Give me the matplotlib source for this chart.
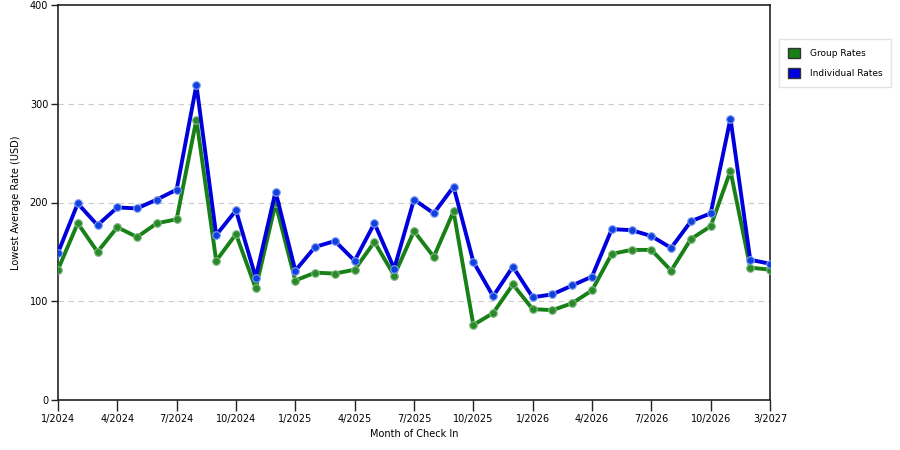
import matplotlib
matplotlib.use("Agg")
import matplotlib.pyplot as plt
from matplotlib.patches import Patch

# month index 0 = 1/2024
months = list(range(37))
tick_pos = [0, 3, 6, 9, 12, 15, 18, 21, 24, 27, 30, 33, 36]
tick_labels = ["1/2024", "4/2024", "7/2024", "10/2024", "1/2025", "4/2025", "7/2025",
               "10/2025", "1/2026", "4/2026", "7/2026", "10/2026", "3/2027"]

group_rates = [132, 179, 150, 175, 165, 179, 183, 284, 141, 168,
               113, 199, 121, 129, 128, 132, 160, 126, 171, 145,
               191, 76, 88, 117, 92, 91, 98, 111, 148, 152,
               152, 131, 163, 176, 232, 134, 132]
individual_rates = [149, 199, 177, 195, 194, 203, 213, 319, 167, 192,
                    124, 211, 131, 155, 161, 141, 179, 133, 203, 189,
                    216, 140, 105, 135, 104, 107, 116, 125, 173, 172,
                    166, 154, 181, 189, 285, 142, 138]

green = "#178017"
blue = "#0000dd"

fig = plt.figure(figsize=(9, 4.5), dpi=100)
ax = fig.add_axes([0.0644, 0.1111, 0.7912, 0.8778])

ax.plot(months, group_rates, color=green, lw=2.8, marker="o", ms=5.5,
        mfc="#2a8a2a", mec="#80b880", mew=0.8, zorder=3)
ax.plot(months, individual_rates, color=blue, lw=2.8, marker="o", ms=5.5,
        mfc="#1040e0", mec="#80a0ef", mew=0.8, zorder=4)

ax.set_xlim(0, 36)
ax.set_ylim(0, 400)
ax.set_xticks(tick_pos)
ax.set_xticklabels(tick_labels)
ax.set_yticks([0, 100, 200, 300, 400])
ax.tick_params(axis="both", labelsize=7, color="#222222", width=1)
ax.tick_params(axis="x", length=8, pad=2)
ax.tick_params(axis="y", length=5, pad=2)
for s in ax.spines.values():
    s.set_color("#222222")
    s.set_linewidth(1.2)

for v in [100, 200, 300]:
    ax.axhline(v, color="#cccccc", lw=0.8, ls=(0, (5, 4)), zorder=1)

ax.set_xlabel("Month of Check In", fontsize=7, labelpad=4)
ax.set_ylabel("Lowest Average Rate (USD)", fontsize=7, labelpad=6)

handles = [Patch(facecolor=green, edgecolor="#333333", label="Group Rates"),
           Patch(facecolor=blue, edgecolor="#333333", label="Individual Rates")]
fig.legend(handles=handles, loc="upper left", bbox_to_anchor=(0.8656, 0.9133),
           borderaxespad=0, fontsize=6.5, frameon=True, fancybox=False,
           edgecolor="#dddddd", handlelength=1.33, handleheight=1.33,
           handletextpad=1.1, borderpad=0.95, labelspacing=1.2)

fig.savefig("out.png", dpi=100)
